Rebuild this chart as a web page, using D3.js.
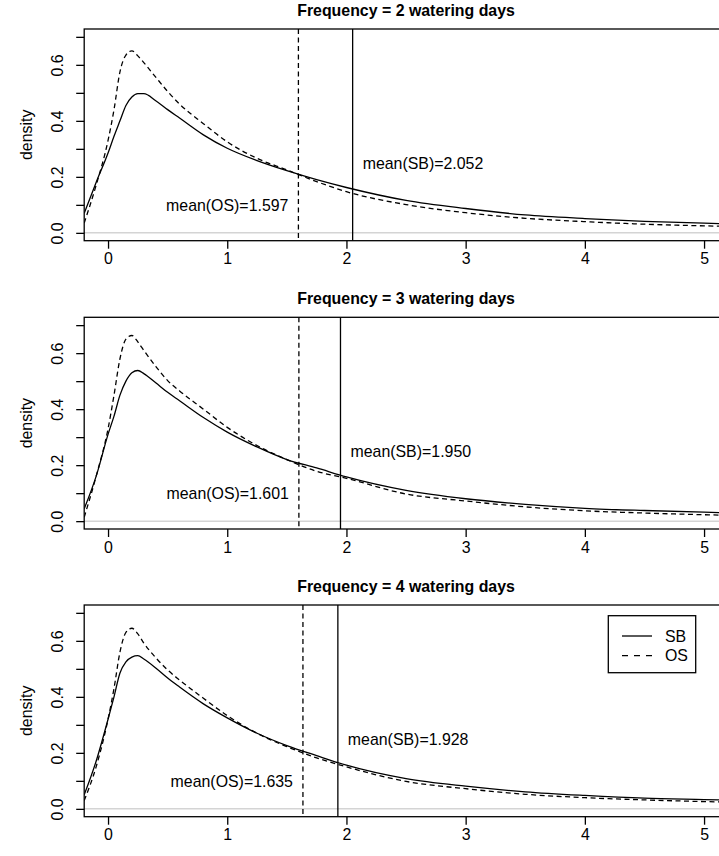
<!DOCTYPE html>
<html>
<head>
<meta charset="utf-8">
<script src="https://cdn.jsdelivr.net/npm/d3@7"></script>
<style>
  body { margin: 0; background: #fff; }
  svg { display: block; font-family: "Liberation Sans", Arial, Helvetica, sans-serif; }
</style>
</head>
<body>
<svg id="chart" width="719" height="856"></svg>
<script>
'use strict';

// chart data
const titles = ['Frequency = 2 watering days', 'Frequency = 3 watering days', 'Frequency = 4 watering days'];
const seriesNames = ['SB', 'OS'];
const xGrid = [-0.2, -0.1, 0, 0.05, 0.1, 0.15, 0.2, 0.25, 0.3, 0.4, 0.5, 0.6, 0.8, 1.0, 1.25, 1.5, 1.75, 2.0, 2.5, 3.0, 3.5, 4.0, 4.5, 5.0, 5.2];

const sbDensity = [
    [0.07, 0.18, 0.285, 0.345, 0.40, 0.455, 0.485, 0.497, 0.497, 0.472, 0.44, 0.41, 0.35, 0.302, 0.258, 0.222, 0.19, 0.162, 0.116, 0.087, 0.064, 0.051, 0.041, 0.035, 0.032],
    [0.044, 0.16, 0.31, 0.375, 0.45, 0.50, 0.53, 0.538, 0.527, 0.494, 0.46, 0.43, 0.37, 0.318, 0.265, 0.22, 0.19, 0.158, 0.11, 0.08, 0.06, 0.046, 0.038, 0.032, 0.03],
    [0.05, 0.17, 0.32, 0.40, 0.485, 0.525, 0.542, 0.547, 0.535, 0.503, 0.467, 0.435, 0.375, 0.325, 0.27, 0.226, 0.19, 0.156, 0.108, 0.081, 0.061, 0.048, 0.038, 0.033, 0.031]
];
const osDensity = [
    [0.035, 0.17, 0.33, 0.44, 0.575, 0.635, 0.65, 0.632, 0.608, 0.556, 0.505, 0.46, 0.39, 0.325, 0.266, 0.225, 0.183, 0.147, 0.101, 0.072, 0.052, 0.04, 0.031, 0.025, 0.023],
    [0.014, 0.16, 0.33, 0.45, 0.58, 0.65, 0.663, 0.64, 0.61, 0.553, 0.502, 0.465, 0.40, 0.335, 0.27, 0.22, 0.178, 0.153, 0.097, 0.072, 0.051, 0.037, 0.029, 0.023, 0.021],
    [0.03, 0.15, 0.32, 0.43, 0.56, 0.63, 0.645, 0.625, 0.592, 0.54, 0.496, 0.46, 0.395, 0.333, 0.27, 0.222, 0.182, 0.15, 0.098, 0.072, 0.052, 0.04, 0.032, 0.026, 0.024]
];
const meanSB = [2.052, 1.950, 1.928];
const meanOS = [1.597, 1.601, 1.635];

const xTicks = [0, 1, 2, 3, 4, 5];
const yTicks = [0, 0.1, 0.2, 0.3, 0.4, 0.5, 0.6, 0.7];
const yTickLabels = ['0.0', '', '0.2', '', '0.4', '', '0.6', ''];

// layout
const boxLeft = 84.2, boxRight = 727.9;
const boxTops = [29, 317.3, 605];
const boxHeight = 211.7;
const fontSize = 15.9;
const dash = '5,3.5';

const svg = d3.select('#chart');
const x = d3.scaleLinear().domain([-0.2, 5.2]).range([boxLeft, boxRight]);

titles.forEach((title, i) => {
    const top = boxTops[i];
    const bottom = top + boxHeight;
    const y = d3.scaleLinear().domain([-0.028, 0.728]).range([bottom, top]);
    const g = svg.append('g');

    const clipId = `clip${i}`;
    g.append('clipPath').attr('id', clipId)
        .append('rect')
        .attr('x', boxLeft).attr('y', top)
        .attr('width', boxRight - boxLeft).attr('height', boxHeight);

    const plot = g.append('g').attr('clip-path', `url(#${clipId})`);

    // grey zero line
    plot.append('line')
        .attr('x1', boxLeft).attr('x2', boxRight)
        .attr('y1', y(0)).attr('y2', y(0))
        .attr('stroke', '#bebebe').attr('stroke-width', 1);

    const line = d3.line()
        .x((d, k) => x(xGrid[k]))
        .y(d => y(d))
        .curve(d3.curveMonotoneX);

    plot.append('path')
        .attr('d', line(sbDensity[i]))
        .attr('fill', 'none').attr('stroke', '#000').attr('stroke-width', 1.3)
        .attr('stroke-linejoin', 'round');
    plot.append('path')
        .attr('d', line(osDensity[i]))
        .attr('fill', 'none').attr('stroke', '#000').attr('stroke-width', 1.3)
        .attr('stroke-dasharray', dash);

    // mean lines
    plot.append('line')
        .attr('x1', x(meanSB[i])).attr('x2', x(meanSB[i]))
        .attr('y1', top).attr('y2', bottom)
        .attr('stroke', '#000').attr('stroke-width', 1.3);
    plot.append('line')
        .attr('x1', x(meanOS[i])).attr('x2', x(meanOS[i]))
        .attr('y1', top).attr('y2', bottom)
        .attr('stroke', '#000').attr('stroke-width', 1.3)
        .attr('stroke-dasharray', dash);

    g.append('text')
        .attr('x', x(meanOS[i]) - 10).attr('y', y(0.1))
        .attr('dy', '0.36em').attr('text-anchor', 'end')
        .attr('font-size', fontSize)
        .text(`mean(OS)=${meanOS[i].toFixed(3)}`);
    g.append('text')
        .attr('x', x(meanSB[i]) + 10).attr('y', y(0.25))
        .attr('dy', '0.36em').attr('text-anchor', 'start')
        .attr('font-size', fontSize)
        .text(`mean(SB)=${meanSB[i].toFixed(3)}`);

    // box
    g.append('rect')
        .attr('x', boxLeft).attr('y', top)
        .attr('width', boxRight - boxLeft).attr('height', boxHeight)
        .attr('fill', 'none').attr('stroke', '#000').attr('stroke-width', 1.3);

    // axes
    const xAxis = g.append('g')
        .attr('transform', `translate(0,${bottom})`)
        .call(d3.axisBottom(x).tickValues(xTicks).tickSize(8).tickFormat(d3.format('d')));
    xAxis.select('.domain').remove();
    xAxis.selectAll('line').attr('stroke-width', 1.3);
    xAxis.selectAll('text')
        .attr('y', 18).attr('dy', '0.36em')
        .attr('font-size', fontSize).attr('font-family', null).attr('fill', '#000');

    const yAxis = g.append('g')
        .attr('transform', `translate(${boxLeft},0)`)
        .call(d3.axisLeft(y).tickValues(yTicks).tickSize(8).tickFormat((d, k) => yTickLabels[k]));
    yAxis.select('.domain').remove();
    yAxis.selectAll('line').attr('stroke-width', 1.3);
    yAxis.selectAll('text')
        .attr('transform', 'rotate(-90)')
        .attr('x', 0).attr('y', -27).attr('dy', '0.36em')
        .attr('text-anchor', 'middle')
        .attr('font-size', fontSize).attr('font-family', null).attr('fill', '#000');

    g.append('text')
        .attr('transform', `translate(27,${(top + bottom) / 2}) rotate(-90)`)
        .attr('text-anchor', 'middle').attr('dy', '0.3em')
        .attr('font-size', fontSize)
        .text('density');

    g.append('text')
        .attr('x', (boxLeft + boxRight) / 2).attr('y', top - 19)
        .attr('dy', '0.36em').attr('text-anchor', 'middle')
        .attr('font-size', fontSize).attr('font-weight', 'bold')
        .text(title);
});

// legend in the last panel
const legend = svg.append('g').attr('transform', 'translate(608.3,615.7)');
legend.append('rect')
    .attr('width', 87.4).attr('height', 57)
    .attr('fill', '#fff').attr('stroke', '#000').attr('stroke-width', 1.3);
const rows = legend.selectAll('g.row')
    .data(seriesNames)
    .enter()
    .append('g')
    .attr('class', 'row')
    .attr('transform', (d, k) => `translate(0,${20.3 + k * 19.7})`);
rows.append('line')
    .attr('x1', 13.7).attr('x2', 43.7)
    .attr('stroke', '#000').attr('stroke-width', 1.3)
    .attr('stroke-dasharray', (d, k) => k === 1 ? '6,6' : null);
rows.append('text')
    .attr('x', 56.7).attr('dy', '0.36em')
    .attr('font-size', fontSize)
    .text(d => d);
</script>
</body>
</html>
